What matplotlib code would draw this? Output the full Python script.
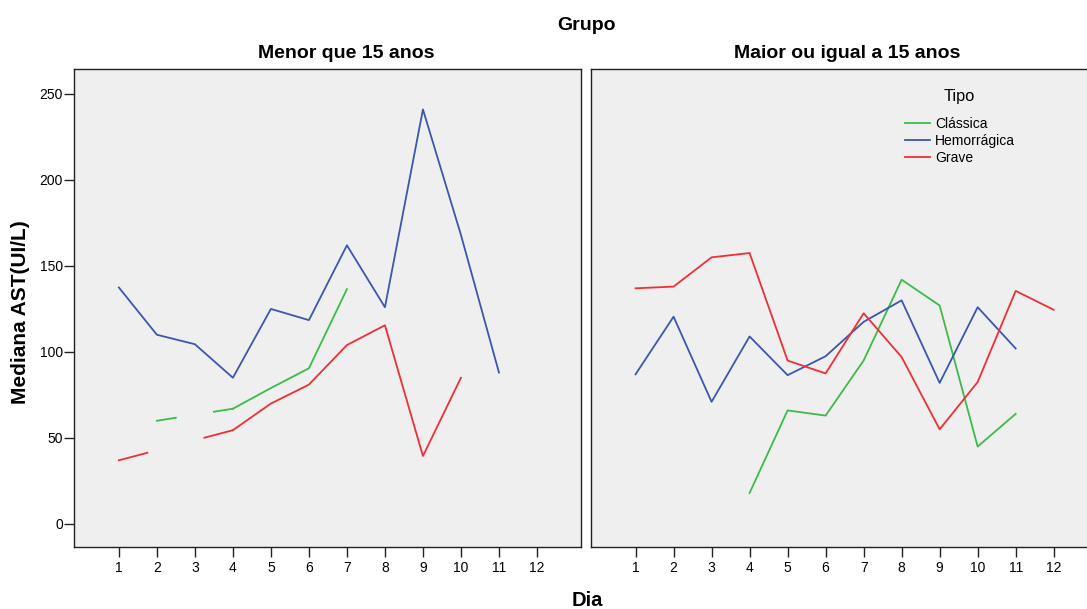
import matplotlib
matplotlib.use("Agg")
import matplotlib.pyplot as plt

plt.rcParams["font.family"] = ["Liberation Sans", "DejaVu Sans"]

dias = list(range(1, 13))

# Mediana AST por dia (None = sem dado)
menor_classica = [None, 60, None, 67, 79, 90.5, 136.5, None, None, None, None, None]
menor_hemorragica = [137.5, 110, 104.5, 85, 125, 118.5, 162, 126, 241, 168, 88, None]
menor_grave = [37, None, None, 54.5, 70, 81, 104, 115.5, 39.5, 85, None, None]

maior_classica = [None, None, None, 18, 66, 63, 95, 142, 127, 45, 64, None]
maior_hemorragica = [87, 120.5, 71, 109, 86.5, 97.5, 117.5, 130, 82, 126, 102, None]
maior_grave = [137, 138, 155, 157.5, 95, 87.5, 122.5, 97, 55, 82.5, 135.5, 124.5]

tipos = ["Clássica", "Hemorrágica", "Grave"]
cores = ["#3dba4a", "#3b56ad", "#ee2f36"]
grupos = ["Menor que 15 anos", "Maior ou igual a 15 anos"]
dados = [
    [menor_classica, menor_hemorragica, menor_grave],
    [maior_classica, maior_hemorragica, maior_grave],
]


def plot_serie(ax, x, y, cor, label=None):
    """Linha com valores ausentes: trechos contínuos e pontas de 25% nas lacunas."""
    pts = [(xi, yi) for xi, yi in zip(x, y) if yi is not None]
    idx = {xi: i for i, xi in enumerate(x)}
    run = [pts[0]]
    first = True
    for (x0, y0), (x1, y1) in zip(pts[:-1], pts[1:]):
        if idx[x1] - idx[x0] == 1:
            run.append((x1, y1))
            continue
        ax.plot(*zip(*run), color=cor, lw=1.3, label=label if first else None)
        first = False
        f = 0.25
        ax.plot([x0, x0 + f * (x1 - x0)], [y0, y0 + f * (y1 - y0)], color=cor, lw=1.3)
        ax.plot([x1 - f * (x1 - x0), x1], [y1 - f * (y1 - y0), y1], color=cor, lw=1.3)
        run = [(x1, y1)]
    if len(run) > 1:
        ax.plot(*zip(*run), color=cor, lw=1.3, label=label if first else None)


W, H = 1087, 609
fig = plt.figure(figsize=(W / 100, H / 100), dpi=100)
fig.patch.set_facecolor("white")

ax_w = (580.7 - 74) / W
ax_h = (547 - 69) / H
ax_b = 1 - 547 / H
axes = [
    fig.add_axes([74 / W, ax_b, ax_w, ax_h]),
    fig.add_axes([590.7 / W, ax_b, ax_w, ax_h]),
]

for k, ax in enumerate(axes):
    ax.set_facecolor("#efefef")
    for tipo, cor, serie in zip(tipos, cores, dados[k]):
        plot_serie(ax, dias, serie, cor, label=tipo)
    ax.set_xlim(-0.18, 13.15)
    ax.set_ylim(-13.4, 264.5)
    ax.set_xticks(dias)
    ax.set_xticklabels([str(d) for d in dias])
    ax.tick_params(axis="x", direction="out", length=7, width=1, color="#222222",
                   labelsize=10, pad=3)
    for s in ax.spines.values():
        s.set_color("#222222")
        s.set_linewidth(1)
    if k == 0:
        ax.set_yticks([0, 50, 100, 150, 200, 250])
        ax.tick_params(axis="y", direction="out", length=7, width=1, color="#222222",
                       labelsize=10, pad=1)
    else:
        ax.set_yticks([])

axes[1].legend(loc="upper left", bbox_to_anchor=(905 / W, 1 - 117 / H),
               bbox_transform=fig.transFigure, frameon=False, borderpad=0,
               fontsize=10, handlelength=1.8, handletextpad=0.36,
               labelspacing=0.22, borderaxespad=0)
fig.text(959 / W, 1 - 97 / H, "Tipo", ha="center", va="center", fontsize=11.8)

fig.text(586 / W, 1 - 25 / H, "Grupo", ha="center", va="center",
         fontsize=14, fontweight="bold")
fig.text(346 / W, 1 - 53 / H, grupos[0], ha="center", va="center",
         fontsize=14, fontweight="bold")
fig.text(847 / W, 1 - 53 / H, grupos[1], ha="center", va="center",
         fontsize=14, fontweight="bold")
fig.text(587 / W, 1 - 600 / H, "Dia", ha="center", va="center",
         fontsize=14.5, fontweight="bold")
fig.text(21 / W, 1 - 312 / H, "Mediana AST(UI/L)", ha="center", va="center",
         rotation=90, fontsize=15, fontweight="bold")

fig.savefig("out.png", dpi=100)
